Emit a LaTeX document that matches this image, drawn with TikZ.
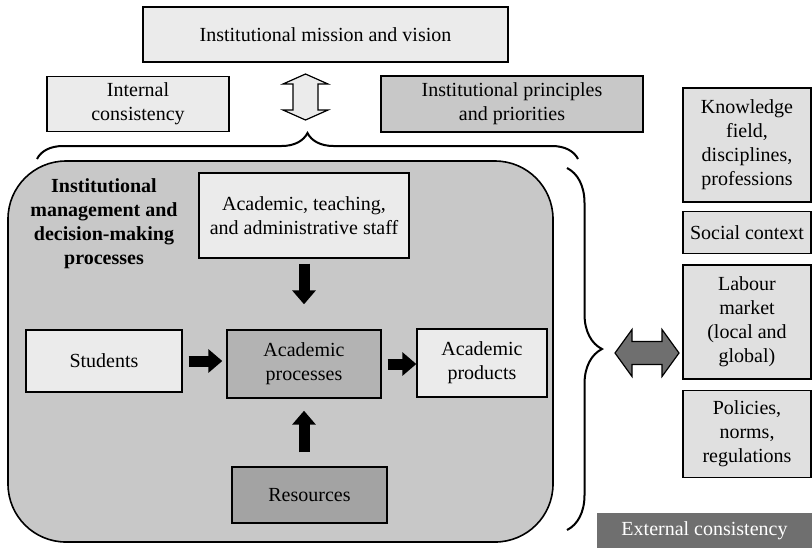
\documentclass[tikz,border=0pt]{standalone}
\usepackage{fontspec}
\setmainfont{Liberation Serif}
\usepackage{tikz}
\usetikzlibrary{positioning, arrows.meta, decorations.pathreplacing}
\definecolor{palegrey}{HTML}{EBEBEB}
\definecolor{sidegrey}{HTML}{E0E0E0}
\definecolor{midgrey}{HTML}{C8C8C8}
\definecolor{procgrey}{HTML}{B3B3B3}
\definecolor{resgrey}{HTML}{A3A3A3}
\definecolor{darkgrey}{HTML}{6F6F6F}
\tikzstyle{lightbox} = [rectangle, draw=black, fill=palegrey, line width=0.7pt, align=center, inner sep=0pt, font=\fontsize{10}{12}\selectfont]
\tikzstyle{midbox} = [lightbox, fill=midgrey]
\tikzstyle{sidebox} = [lightbox, fill=sidegrey, minimum width=64pt]
\tikzstyle{panel} = [rectangle, rounded corners=29pt, draw=black, fill=midgrey, line width=0.8pt]
\tikzstyle{titletext} = [align=center, font=\fontsize{10}{12}\selectfont\bfseries]
\tikzstyle{extbox} = [rectangle, fill=darkgrey, text=white, inner sep=0pt, font=\fontsize{10}{12}\selectfont]
\tikzstyle{blockarrow} = [line width=5.5pt, -{Triangle[width=11.5pt,length=7pt]}]
\tikzstyle{hollowarrow} = [draw=black, fill=palegrey, line width=0.6pt, line join=miter]
\tikzstyle{greyarrow} = [draw=black, fill=darkgrey, line width=0.6pt, line join=miter]
\tikzstyle{bracket} = [line width=1pt]

\begin{document}
\begin{tikzpicture}[x=0.5pt, y=-0.5pt, node distance=4pt]
        \useasboundingbox (0,0) rectangle (812,548);

        \node (mission) [lightbox, minimum width=182.5pt, minimum height=27.5pt] at (325.5,34.5) {Institutional mission and vision};
        \node (internal) [lightbox, minimum width=91pt, minimum height=27.5pt] at (138,104) {Internal\\consistency};
        \node (principles) [midbox, minimum width=131pt, minimum height=28pt] at (512,104) {Institutional principles\\and priorities};
        \coordinate (vcentre) at (305.5,97);
        \coordinate (topleft) at (37,159);
        \coordinate (topright) at (578,159);

        \node (institution) [panel, minimum width=272.5pt, minimum height=190.5pt] at (280.5,351.5) {};
        \node (management) [titletext] at (104,224) {Institutional\\management and\\decision-making\\processes};
        \node (staff) [lightbox, minimum width=105pt, minimum height=42.5pt] at (304,215.5) {Academic, teaching,\\and administrative staff};
        \node (students) [lightbox, minimum width=78pt, minimum height=31pt] at (104,361) {Students};
        \node (proc) [lightbox, fill=procgrey, minimum width=77pt, minimum height=34pt] at (304,364) {Academic\\processes};
        \node (products) [lightbox, minimum width=65pt, minimum height=34pt] at (482,363) {Academic\\products};
        \node (resources) [lightbox, fill=resgrey, minimum width=77.5pt, minimum height=28pt] at (309.5,495) {Resources};

        \coordinate (sidetop) at (567,168);
        \coordinate (sidebottom) at (567,530);
        \coordinate (hcentre) at (647,353);
        \node (knowledge) [sidebox, minimum height=57pt] at (747,145) {Knowledge\\field,\\disciplines,\\professions};
        \node (social) [sidebox, minimum height=21pt, below=4pt of knowledge] {Social context};
        \node (labour) [sidebox, minimum height=57pt, below=5pt of social] {Labour\\market\\(local and\\global)};
        \node (policies) [sidebox, minimum height=43.5pt, below=5pt of labour] {Policies,\\norms,\\regulations};
        \node (external) [extbox, minimum width=107.5pt, minimum height=17.5pt] at (704.5,530.5) {External consistency};

        % hollow arrow between mission and the institution
        \draw [hollowarrow] (vcentre) ++(0,-23) -- ++(22.5,10) -- ++(-10,0) -- ++(0,26) -- ++(10,0) -- ++(-22.5,10)
              -- ++(-22.5,-10) -- ++(10,0) -- ++(0,-26) -- ++(-10,0) -- cycle;
        \draw [bracket, decorate, decoration={brace, amplitude=13pt}] (topleft) -- (topright);

        \draw [blockarrow, shorten <=2.5pt, shorten >=12.5pt] (staff.south) -- (proc.north);
        \draw [blockarrow, shorten <=3pt, shorten >=2pt] (students.east) -- (students.east -| proc.west);
        \draw [blockarrow, shorten <=3pt] (proc.east) -- (proc.east -| products.west);
        \draw [blockarrow, shorten <=7pt, shorten >=6pt] (resources.north -| proc.south) -- (proc.south);

        % link to the outside
        \draw [bracket, decorate, decoration={brace, amplitude=17.5pt}] (sidetop) -- (sidebottom);
        \draw [greyarrow] (hcentre) ++(-32,0) -- ++(17,-23.5) -- ++(0,12) -- ++(30,0) -- ++(0,-12) -- ++(17,23.5)
              -- ++(-17,23.5) -- ++(0,-12) -- ++(-30,0) -- ++(0,12) -- cycle;

\end{tikzpicture}
\end{document}
